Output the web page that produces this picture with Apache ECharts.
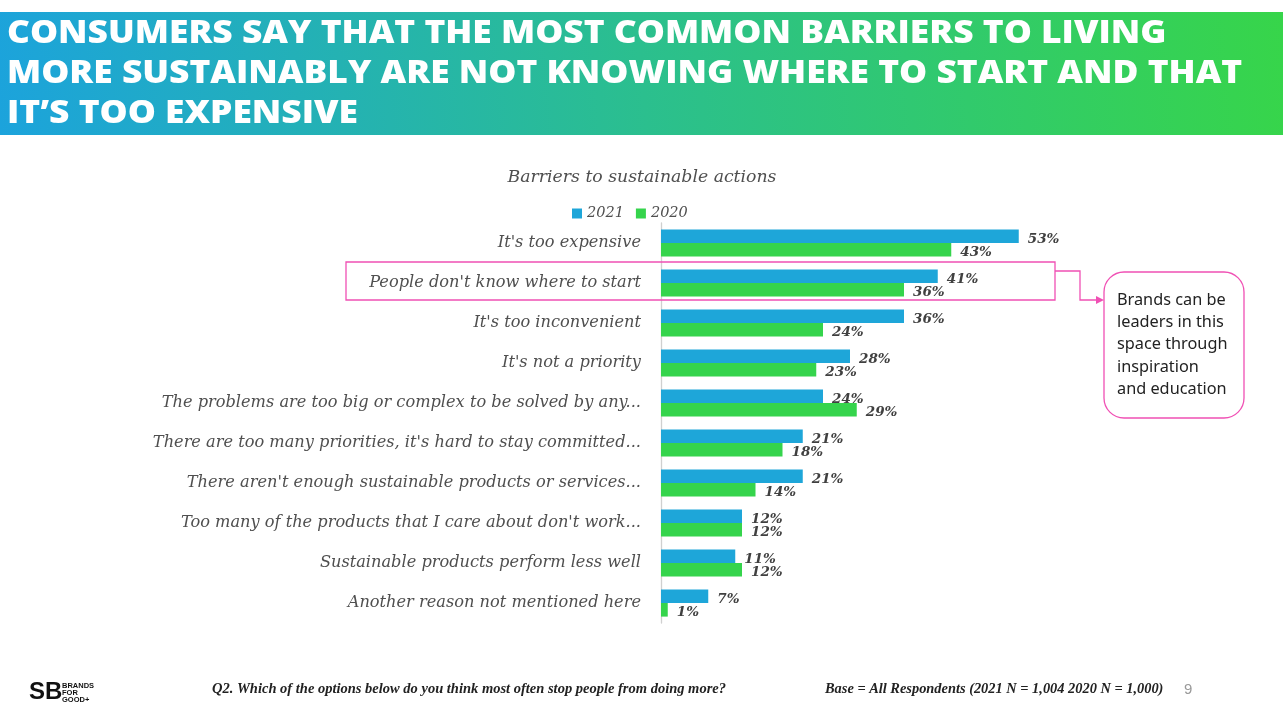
<!DOCTYPE html>
<html><head><meta charset="utf-8">
<script src="https://cdn.jsdelivr.net/npm/echarts@6/dist/echarts.min.js"></script>
<style>html,body{margin:0;padding:0;background:#fff}#c{width:1283px;height:721px}</style>
</head><body><div id="c"></div>
<script>
const categories = [
  "It's too expensive",
  "People don't know where to start",
  "It's too inconvenient",
  "It's not a priority",
  "The problems are too big or complex to be solved by any...",
  "There are too many priorities, it's hard to stay committed...",
  "There aren't enough sustainable products or services...",
  "Too many of the products that I care about don't work...",
  "Sustainable products perform less well",
  "Another reason not mentioned here"
];
const values2021 = [53, 41, 36, 28, 24, 21, 21, 12, 11, 7];
const values2020 = [43, 36, 24, 23, 29, 18, 14, 12, 12, 1];
const headerLines = [
  "CONSUMERS SAY THAT THE MOST COMMON BARRIERS TO LIVING",
  "MORE SUSTAINABLY ARE NOT KNOWING WHERE TO START AND THAT",
  "IT\u2019S TOO EXPENSIVE"
];
const calloutText = "Brands can be\nleaders in this\nspace through\ninspiration\nand education";

const chart = echarts.init(document.getElementById('c'), null, {renderer: 'canvas'});
const serif = 'DejaVu Serif';
const pink = '#f050b4';

const graphics = [
  {type: 'rect', shape: {x: 0, y: 12, width: 1283, height: 123}, z: 0,
   style: {fill: new echarts.graphic.LinearGradient(0, 1, 1, 0, [
     {offset: 0, color: '#1ca3dc'}, {offset: 0.5, color: '#2bbf8e'}, {offset: 1, color: '#37d54a'}])}},
];
headerLines.forEach((t, i) => {
  graphics.push({type: 'text', x: 7, y: 18 + i * 39.7, scaleX: 1.105, z: 2,
    style: {text: t, x: 0, y: 0, verticalAlign: 'top', fill: '#fff', font: '800 32px "Open Sans"'}});
});
graphics.push(
  {type: 'rect', shape: {x: 346, y: 262, width: 709, height: 38}, z: 5,
   style: {fill: 'none', stroke: pink, lineWidth: 1.3}},
  {type: 'polyline', shape: {points: [[1055, 271], [1080, 271], [1080, 300], [1096, 300]]}, z: 5,
   style: {fill: 'none', stroke: pink, lineWidth: 1.3}},
  {type: 'polygon', shape: {points: [[1096, 296], [1104, 300], [1096, 304]]}, z: 5,
   style: {fill: pink}},
  {type: 'rect', shape: {x: 1104, y: 272, width: 140, height: 146, r: 20}, z: 5,
   style: {fill: '#fff', stroke: pink, lineWidth: 1.3}},
  {type: 'text', left: 1117, top: 289, z: 6,
   style: {text: calloutText, fill: '#222', font: '16.3px "Noto Sans"', lineHeight: 22.3}},
  {type: 'text', left: 212, top: 682, z: 6,
   style: {text: 'Q2. Which of the options below do you think most often stop people from doing more?', fill: '#222', font: 'italic bold 14.5px "Liberation Serif"'}},
  {type: 'text', left: 825, top: 682, z: 6,
   style: {text: 'Base = All Respondents (2021 N = 1,004 2020 N = 1,000)', fill: '#222', font: 'italic bold 14.4px "Liberation Serif"'}},
  {type: 'text', left: 1184, top: 682, z: 6,
   style: {text: '9', fill: '#999', font: '15px "Liberation Sans"'}},
  {type: 'text', left: 29, top: 680, z: 6,
   style: {text: 'SB', fill: '#111', font: 'bold 24px "Liberation Sans"'}},
  {type: 'text', left: 62, top: 682, z: 6,
   style: {text: 'BRANDS\nFOR\nGOOD+', fill: '#111', font: 'bold 7.5px "Liberation Sans"', lineHeight: 7}}
);

chart.setOption({
  animation: false,
  title: {text: 'Barriers to sustainable actions', left: 637, textAlign: 'center', top: 164,
    textStyle: {fontFamily: serif, fontStyle: 'italic', fontWeight: 'normal', fontSize: 17.3, color: '#4f4f4f'}},
  legend: {top: 201, left: 567, itemWidth: 10, itemHeight: 10, itemGap: 12, icon: 'rect',
    textStyle: {fontFamily: serif, fontStyle: 'italic', fontSize: 14.5, color: '#4f4f4f'}},
  grid: {left: 661, top: 223, width: 405, height: 400},
  xAxis: {type: 'value', min: 0, max: 60, show: false, splitLine: {show: false}},
  yAxis: {type: 'category', data: categories, inverse: true,
    axisLine: {show: true, lineStyle: {color: '#d0d0d0', width: 1.3}},
    axisTick: {show: false},
    axisLabel: {margin: 20, fontFamily: serif, fontStyle: 'italic', fontSize: 16.2, color: '#4f4f4f'}},
  series: [
    {name: '2021', type: 'bar', data: values2021, barGap: '0%', barCategoryGap: '32%',
     itemStyle: {color: '#1ea6d9'},
     label: {show: true, position: 'right', distance: 9, offset: [0, 3], formatter: '{c}%',
       fontFamily: serif, fontStyle: 'italic', fontWeight: 'bold', fontSize: 13.5, color: '#404040'}},
    {name: '2020', type: 'bar', data: values2020,
     itemStyle: {color: '#35d44c'},
     label: {show: true, position: 'right', distance: 9, offset: [0, 3], formatter: '{c}%',
       fontFamily: serif, fontStyle: 'italic', fontWeight: 'bold', fontSize: 13.5, color: '#404040'}}
  ],
  graphic: graphics
});
</script></body></html>
